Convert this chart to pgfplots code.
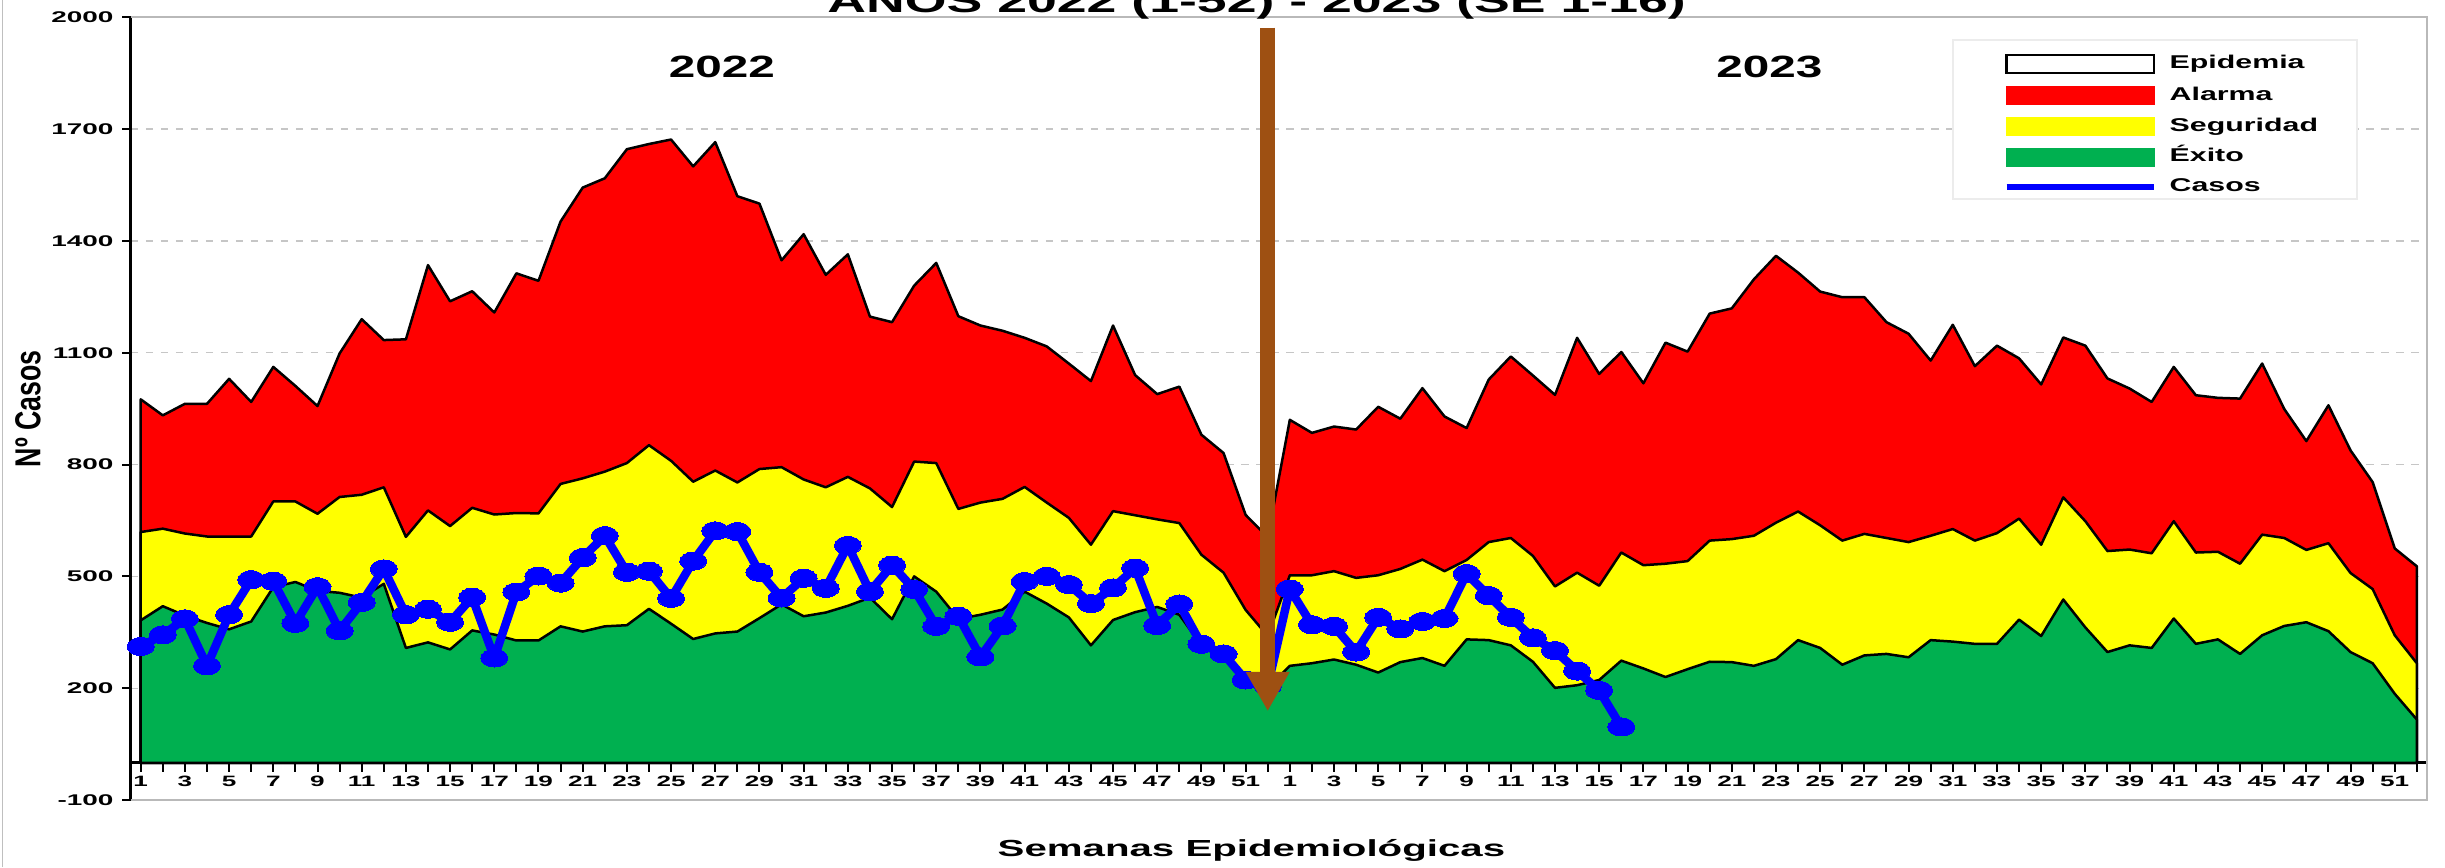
\documentclass[border=0pt]{standalone}
\usepackage{pgfplots}
\pgfplotsset{compat=1.18}
\usepackage{pgfplotstable}
\usepackage{graphicx}
\usepackage{fontspec}
\setmainfont{Liberation Sans}

\definecolor{alarma}{RGB}{255,0,0}
\definecolor{seguridad}{RGB}{255,255,0}
\definecolor{exito}{RGB}{0,176,80}
\definecolor{casos}{RGB}{0,0,255}
\definecolor{flecha}{RGB}{158,80,18}

% the source image is stretched sideways, so is the text
\newcommand{\sx}[2][1.7]{\scalebox{#1}[1]{#2}}
\newcommand{\sy}[1]{\scalebox{1.8}[1]{#1}}
\newcommand{\leyenda}[1]{\hspace*{5pt}\sx[1.64]{#1}}

% weeks 2022 (x=0..51) then 2023 (x=52..103)
\pgfplotstableread{
x red yel grn
0 975 619 382
1 932 628 420
2 963 615 395
3 963 607 375
4 1030 607 358
5 968 607 379
6 1062 701 471
7 1011 701 485
8 957 668 461
9 1098 713 456
10 1190 719 443
11 1134 739 480
12 1136 606 308
13 1335 677 323
14 1238 635 304
15 1265 684 355
16 1208 666 344
17 1313 670 328
18 1293 669 328
19 1452 748 366
20 1543 763 352
21 1568 781 366
22 1646 804 369
23 1660 852 413
24 1672 810 373
25 1600 754 332
26 1665 784 347
27 1520 752 352
28 1500 788 388
29 1348 793 425
30 1418 760 393
31 1309 739 403
32 1364 767 421
33 1197 736 443
34 1182 686 385
35 1280 808 500
36 1341 804 459
37 1198 681 386
38 1173 698 397
39 1159 708 411
40 1140 740 459
41 1117 698 427
42 1071 657 390
43 1024 585 315
44 1173 675 383
45 1040 664 404
46 989 653 418
47 1009 643 397
48 880 558 315
49 831 510 283
50 665 410 230
51 605 340 200
52 920 503 260
53 885 503 267
54 902 514 277
55 894 496 263
56 955 503 242
57 923 520 270
58 1005 545 281
59 929 514 260
60 898 544 331
61 1028 592 329
62 1090 603 315
63 1039 555 271
64 987 473 201
65 1140 510 208
66 1043 475 222
67 1102 564 274
68 1018 530 253
69 1127 534 230
70 1103 541 251
71 1205 596 271
72 1219 600 270
73 1297 609 260
74 1360 644 278
75 1315 674 329
76 1264 637 308
77 1249 596 263
78 1249 614 288
79 1182 603 292
80 1151 592 283
81 1079 609 329
82 1175 627 325
83 1064 596 319
84 1119 616 319
85 1085 655 384
86 1015 585 340
87 1141 712 438
88 1119 648 363
89 1031 568 297
90 1004 572 315
91 968 562 308
92 1062 648 387
93 986 564 319
94 979 566 331
95 977 534 292
96 1071 612 342
97 949 603 367
98 863 571 377
99 959 589 353
100 838 509 297
101 753 466 267
102 575 342 185
103 527 267 116
}\canal

\pgfplotstableread{
x casos
0 312
1 343
2 386
3 260
4 397
5 491
6 487
7 374
8 472
9 354
10 430
11 520
12 397
13 412
14 377
15 444
16 281
17 458
18 501
19 482
20 550
21 609
22 511
23 514
24 441
25 541
26 622
27 620
28 511
29 442
30 495
31 468
32 583
33 459
34 530
35 465
36 366
37 393
38 284
39 367
40 486
41 500
42 478
43 427
44 469
45 522
46 368
47 426
48 318
49 292
50 222
51 205
52 466
53 370
54 366
55 297
56 390
57 359
58 379
59 387
60 507
61 448
62 390
63 335
64 301
65 246
66 194
67 96
}\casos

\begin{document}
\begin{tikzpicture}
\begin{axis}[
  set layers,
  scale only axis, width=918.4pt, height=313.1pt,
  xmin=-0.44, xmax=103.46, ymin=-100, ymax=2000,
  axis x line=middle, axis y line=left,
  axis line style={-},
  x axis line style={black, line width=1.2pt},
  y axis line style={black, line width=1.2pt},
  tick align=outside, major tick length=3.5pt,
  tick style={black, line width=0.8pt},
  hide obscured x ticks=false,
  xtick={0,...,103},
  xticklabel={\pgfmathtruncatemacro{\wk}{mod(round(\tick),52)+1}\ifodd\wk\relax\sx[1.74]{\wk}\fi},
  xticklabel style={font=\bfseries\fontsize{6}{7}\selectfont, inner sep=1.5pt},
  ytick={-100,200,...,2000},
  yticklabels={\sy{-100},\sy{200},\sy{500},\sy{800},\sy{1100},\sy{1400},\sy{1700},\sy{2000}},
  yticklabel style={font=\bfseries\fontsize{6.2}{7}\selectfont},
  ymajorgrids, major grid style={gray!45, dashed, line width=0.5pt},
  clip=false,
  legend cell align=left,
  legend style={at={(0.8153,0.8624)}, anchor=west, draw=none, fill=none,
    inner sep=0pt, row sep=4.7pt,
    nodes={inner sep=0pt, text height=5.4pt, text depth=1.6pt},
    font=\bfseries\fontsize{7.4}{8}\selectfont},
]
\addlegendimage{legend image code/.code={\draw[black, line width=1pt, fill=white] (0pt,-3.6pt) rectangle (59pt,3.6pt);}}
\addlegendentry{\leyenda{Epidemia}}
\addlegendimage{legend image code/.code={\fill[alarma] (0pt,-3.6pt) rectangle (59pt,3.6pt);}}
\addlegendentry{\leyenda{Alarma}}
\addlegendimage{legend image code/.code={\fill[seguridad] (0pt,-3.6pt) rectangle (59pt,3.6pt);}}
\addlegendentry{\leyenda{Seguridad}}
\addlegendimage{legend image code/.code={\fill[exito] (0pt,-3.6pt) rectangle (59pt,3.6pt);}}
\addlegendentry{\leyenda{Éxito}}
\addlegendimage{legend image code/.code={\draw[casos, line width=2.5pt] (0pt,0pt) -- (59pt,0pt);}}
\addlegendentry{\leyenda{Casos}}

\addplot[draw=black, line width=1pt, line join=round, fill=alarma, forget plot] table[x=x,y=red]{\canal} \closedcycle;
\addplot[draw=black, line width=1pt, line join=round, fill=seguridad, forget plot] table[x=x,y=yel]{\canal} \closedcycle;
\addplot[draw=black, line width=1pt, line join=round, fill=exito, forget plot] table[x=x,y=grn]{\canal} \closedcycle;
\addplot[casos, line width=3.4pt, line join=round, mark=*, mark size=3.6pt,
  mark options={xscale=1.5, fill=casos, draw=casos, line width=0pt}, forget plot]
  table[x=x,y=casos]{\casos};

% brown arrow marking the change of year, above the marks
\begin{pgfonlayer}{axis foreground}
\draw[flecha, line width=6pt] (axis cs:51,1972) -- (axis cs:51,232);
\fill[flecha] (axis cs:50.0,244) -- (axis cs:52.0,244) -- (axis cs:51,140) -- cycle;
\end{pgfonlayer}

% legend box and frame
\draw[gray!15, fill=white, line width=0.6pt] (rel axis cs:0.7935,0.7679) rectangle (rel axis cs:0.9695,0.9710);
\draw[gray!55, line width=0.8pt] (rel axis cs:0,0) -- (rel axis cs:1,0) -- (rel axis cs:1,1) -- (rel axis cs:0,1);
\draw[gray!50, line width=0.6pt] (rel axis cs:-0.0559,-0.0856) -- (rel axis cs:-0.0559,1.0221);

\node[font=\bfseries\fontsize{12.3}{14}\selectfont] at (axis cs:26.3,1867) {\sx[1.55]{2022}};
\node[font=\bfseries\fontsize{12.3}{14}\selectfont] at (axis cs:73.7,1867) {\sx[1.55]{2023}};
\node[anchor=base, font=\bfseries\fontsize{13}{15}\selectfont] at (axis cs:50.5,2012) {\sx[1.65]{AÑOS 2022 (1-52) - 2023 (SE 1-16)}};
\node[font=\bfseries\fontsize{9.3}{11}\selectfont] at (rel axis cs:0.488,-0.064) {\sx[1.73]{Semanas Epidemiológicas}};
\node[rotate=90, font=\bfseries\fontsize{10.7}{12}\selectfont] at (rel axis cs:-0.0449,0.5) {\scalebox{1}[1.35]{Nº Casos}};

\coordinate (bbSW) at (rel axis cs:-0.05706,-0.0856);
\coordinate (bbNE) at (rel axis cs:1.00784,1.0221);
\end{axis}
\pgfresetboundingbox
\path[use as bounding box] (bbSW) rectangle (bbNE);
\end{tikzpicture}
\end{document}
